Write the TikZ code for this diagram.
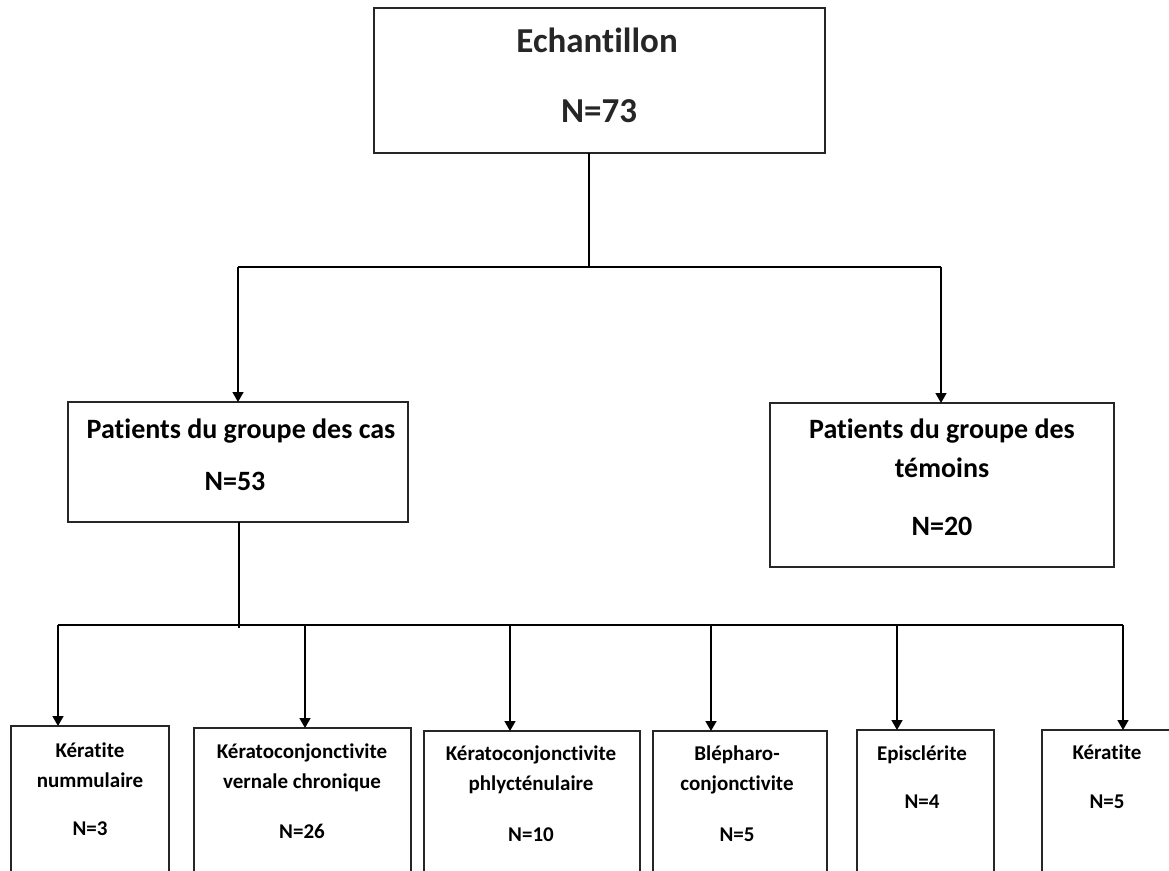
\documentclass[tikz,border=0pt]{standalone}
\usepackage{fontspec}
\setmainfont{Carlito}[Ligatures={NoCommon,NoContextual,NoRare},RawFeature=-calt]
\usetikzlibrary{arrows.meta}
\newcommand{\tI}{t\kern0pt i}
\begin{document}
\begin{tikzpicture}[x=1pt,y=-1pt,
  box/.style={draw=black!85, line width=2pt, inner sep=0pt, outer sep=0pt},
  conn/.style={draw=black, line width=1.6pt},
  arr/.style={conn, -{Triangle[length=10pt,width=11pt]}},
  topfont/.style={font=\bfseries\fontsize{35}{40}\selectfont, text=black!85, inner sep=0pt, anchor=base},
  midfont/.style={font=\bfseries\fontsize{28}{32}\selectfont, inner sep=0pt, anchor=base},
  lowfont/.style={font=\bfseries\fontsize{21}{24}\selectfont, inner sep=0pt, anchor=base}]
\useasboundingbox (0,0) rectangle (1169,870);
\clip (0,0) rectangle (1169,870);
\fill[white] (0,0) rectangle (1169,870);

% boxes
\node[box, minimum width=451pt, minimum height=145pt] (top) at (599.5,80.5) {};
\node[box, minimum width=340pt, minimum height=120pt] (cas) at (238,462) {};
\node[box, minimum width=344pt, minimum height=164pt] (tem) at (942,485) {};
\node[box, minimum width=158pt, minimum height=174pt] (b1) at (90,813) {};
\node[box, minimum width=217pt, minimum height=172pt] (b2) at (302.5,814) {};
\node[box, minimum width=216pt, minimum height=169pt] (b3) at (532,815.5) {};
\node[box, minimum width=174pt, minimum height=169pt] (b4) at (740,815.5) {};
\node[box, minimum width=137pt, minimum height=170pt] (b5) at (925.5,815) {};
\node[box, minimum width=133pt, minimum height=170pt] (b6) at (1108.5,815) {};

% texts
\node[topfont] (t1) at (597,52) {Echan\tI llon};
\node[topfont] (t2) at (599,122) {N=73};
\node[midfont] (c1) at (241,438) {Pa\tI ents du groupe des cas};
\node[midfont] (c2) at (235,490) {N=53};
\node[midfont] (w1) at (942,438) {Pa\tI ents du groupe des};
\node[midfont] (w2) at (942,477) {témoins};
\node[midfont] (w3) at (942,535) {N=20};
\node[lowfont] (k1) at (90,757) {Kéra\tI te};
\node[lowfont] (k2) at (90,787) {nummulaire};
\node[lowfont] (k3) at (90,835) {N=3};
\node[lowfont] (v1) at (302,758) {Kératoconjonc\tI vite};
\node[lowfont] (v2) at (302,788) {vernale chronique};
\node[lowfont] (v3) at (302,838) {N=26};
\node[lowfont] (p1) at (531,760) {Kératoconjonc\tI vite};
\node[lowfont] (p2) at (531,790) {phlycténulaire};
\node[lowfont] (p3) at (531,841) {N=10};
\node[lowfont] (q1) at (737,760) {Blépharo-};
\node[lowfont] (q2) at (737,790) {conjonc\tI vite};
\node[lowfont] (q3) at (737,841) {N=5};
\node[lowfont] (e1) at (922,760) {Episclérite};
\node[lowfont] (e2) at (922,808) {N=4};
\node[lowfont] (r1) at (1107,759) {Kéra\tI te};
\node[lowfont] (r2) at (1107,808) {N=5};

% connectors level 1
\coordinate (j1) at (589,267);
\coordinate (jl) at (238,267);
\coordinate (jr) at (941,267);
\draw[conn] (top.south -| j1) -- (j1);
\draw[conn] (jl) -- (jr);
\draw[arr] (jl) -- (jl |- cas.north);
\draw[arr] (jr) -- (jr |- tem.north);

% connectors level 2
\coordinate (j2) at (239,628);
\coordinate (h1) at (58,625);
\coordinate (h2) at (305,625);
\coordinate (h3) at (510,625);
\coordinate (h4) at (711,625);
\coordinate (h5) at (897,625);
\coordinate (h6) at (1123,625);
\draw[conn] (cas.south -| j2) -- (j2);
\draw[conn] (h1) -- (h6);
\draw[arr] (h1) -- (h1 |- b1.north);
\draw[arr] (h2) -- (h2 |- b2.north);
\draw[arr] (h3) -- (h3 |- b3.north);
\draw[arr] (h4) -- (h4 |- b4.north);
\draw[arr] (h5) -- (h5 |- b5.north);
\draw[arr] (h6) -- (h6 |- b6.north);
\end{tikzpicture}
\end{document}
